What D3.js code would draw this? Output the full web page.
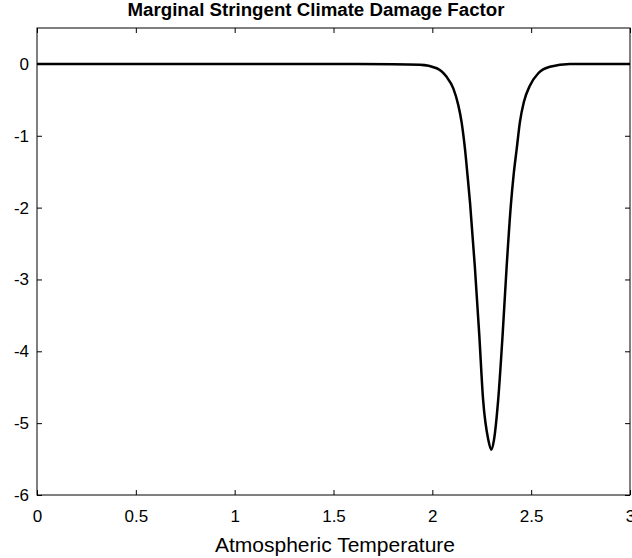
<!DOCTYPE html>
<html>
<head>
<meta charset="utf-8">
<script src="https://cdn.jsdelivr.net/npm/d3@7"></script>
<style>
  body { margin: 0; background: #fff; }
  text { font-family: "Liberation Sans", Arial, sans-serif; fill: #000; }
</style>
</head>
<body>
<div id="chart"></div>
<script>
// values
let temperature = [0, 0.5, 1.0, 1.5, 1.8, 1.937, 2.022, 2.072, 2.106, 2.131, 2.148, 2.165, 2.178,
    2.191, 2.215, 2.237, 2.257, 2.283, 2.298, 2.312, 2.333, 2.356, 2.376, 2.398, 2.411, 2.427,
    2.443, 2.463, 2.494, 2.536, 2.595, 2.696, 3.0]
let damage = [0, 0, 0, 0, -0.003, -0.01, -0.06, -0.18, -0.34, -0.57, -0.81, -1.18, -1.55,
    -1.94, -2.82, -3.75, -4.68, -5.23, -5.37, -5.23, -4.68, -3.75, -2.82, -1.94, -1.55, -1.18,
    -0.81, -0.53, -0.30, -0.13, -0.04, 0, 0]
let xTicks = [0, 0.5, 1, 1.5, 2, 2.5, 3]
let yTicks = [0, -1, -2, -3, -4, -5, -6]

let titleText = "Marginal Stringent Climate Damage Factor"
let xLabelText = "Atmospheric Temperature"

let width = 632
let height = 558
let margins = {top: 28, right: 2, bottom: 63, left: 37}
let plotW = width - margins.left - margins.right
let plotH = height - margins.top - margins.bottom

let svg = d3.select("#chart").append("svg")
    .attr("width", width)
    .attr("height", height)

let g = svg.append("g")
    .attr("transform", `translate(${margins.left}, ${margins.top})`)

let xScale = d3.scaleLinear().domain([0, 3]).range([0, plotW])
let yScale = d3.scaleLinear().domain([-6, 0.5]).range([plotH, 0])

// plain hyphen for negatives, like the reference
let fmt = d => String(d)

// ticks point inward on all four sides
let tickLen = 5
g.append("g")
    .attr("transform", `translate(0, ${plotH})`)
    .call(d3.axisBottom(xScale).tickValues(xTicks).tickSizeInner(-tickLen).tickSizeOuter(0)
        .tickPadding(15).tickFormat(fmt))
    .call(ax => ax.select(".domain").remove())
g.append("g")
    .call(d3.axisTop(xScale).tickValues(xTicks).tickSizeInner(-tickLen).tickSizeOuter(0).tickFormat(""))
    .call(ax => ax.select(".domain").remove())
g.append("g")
    .call(d3.axisLeft(yScale).tickValues(yTicks).tickSizeInner(-tickLen).tickSizeOuter(0)
        .tickPadding(8).tickFormat(fmt))
    .call(ax => ax.select(".domain").remove())
g.append("g")
    .attr("transform", `translate(${plotW}, 0)`)
    .call(d3.axisRight(yScale).tickValues(yTicks).tickSizeInner(-tickLen).tickSizeOuter(0).tickFormat(""))
    .call(ax => ax.select(".domain").remove())

g.selectAll(".tick line").attr("stroke", "#000")
g.selectAll(".tick text")
    .style("font-family", "Liberation Sans, Arial, sans-serif")
    .style("font-size", "17px")

g.append("rect")
    .attr("x", 0).attr("y", 0)
    .attr("width", plotW).attr("height", plotH)
    .attr("fill", "none")
    .attr("stroke", "#000")
    .attr("stroke-width", 1)

let line = d3.line()
    .x((d, i) => xScale(temperature[i]))
    .y(d => yScale(d))
    .curve(d3.curveMonotoneX)

g.append("path")
    .datum(damage)
    .attr("fill", "none")
    .attr("stroke", "#000")
    .attr("stroke-width", 2.5)
    .attr("d", line)

svg.append("text")
    .attr("x", 316).attr("y", 16)
    .attr("text-anchor", "middle")
    .style("font-weight", "bold")
    .style("font-size", "18.7px")
    .text(titleText)

svg.append("text")
    .attr("x", 335).attr("y", 552)
    .attr("text-anchor", "middle")
    .style("font-size", "21px")
    .text(xLabelText)
</script>
</body>
</html>
